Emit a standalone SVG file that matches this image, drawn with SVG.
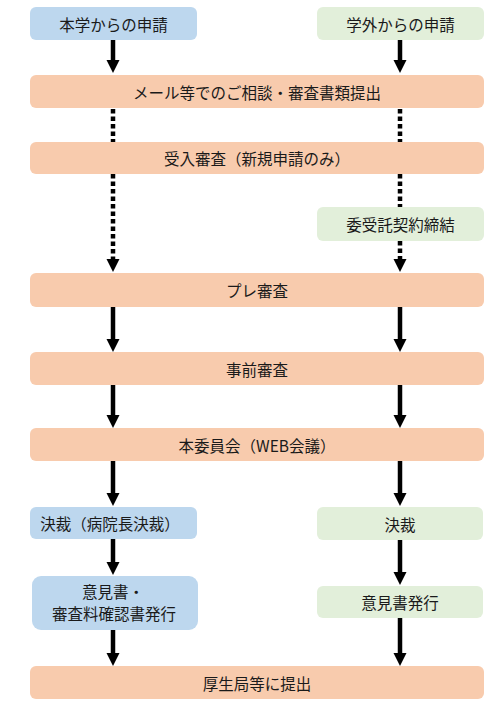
<svg xmlns="http://www.w3.org/2000/svg" width="504" height="706" viewBox="0 0 504 706">
<style>
.o{fill:#F8CBAD}.b{fill:#BDD7EE}.g{fill:#E2EFDA}
text{font-family:"Noto Sans CJK JP","Noto Sans",sans-serif;font-size:15.5px;fill:#1a1a1a;text-anchor:middle;dominant-baseline:central}
.s{stroke:#000;stroke-width:4.5;fill:none}
.d{stroke:#000;stroke-width:4.5;fill:none;stroke-dasharray:4.5 3}
</style>
<g id="connectors">
<path class="s" d="M113,40 V61"/><path d="M106.5,60 h13 L113,73 Z"/>
<path class="s" d="M400,40 V61"/><path d="M393.5,60 h13 L400,73 Z"/>
<path class="d" d="M113,109 V142"/>
<path class="d" d="M400,109 V142"/>
<path class="d" d="M113,174 V260"/><path d="M106.5,259 h13 L113,272 Z"/>
<path class="d" d="M400,174 V207"/>
<path class="d" d="M400,241 V260"/><path d="M393.5,259 h13 L400,272 Z"/>
<path class="s" d="M113,307 V340"/><path d="M106.5,339 h13 L113,352 Z"/>
<path class="s" d="M400,307 V340"/><path d="M393.5,339 h13 L400,352 Z"/>
<path class="s" d="M113,385 V416"/><path d="M106.5,415 h13 L113,428 Z"/>
<path class="s" d="M400,385 V416"/><path d="M393.5,415 h13 L400,428 Z"/>
<path class="s" d="M113,461 V494"/><path d="M106.5,493 h13 L113,506 Z"/>
<path class="s" d="M400,461 V494"/><path d="M393.5,493 h13 L400,506 Z"/>
<path class="s" d="M113,539 V563"/><path d="M106.5,562 h13 L113,575 Z"/>
<path class="s" d="M400,540 V573"/><path d="M393.5,572 h13 L400,585 Z"/>
<path class="s" d="M113,630 V654"/><path d="M106.5,653 h13 L113,666 Z"/>
<path class="s" d="M400,618 V654"/><path d="M393.5,653 h13 L400,666 Z"/>
</g>
<g id="n1"><rect class="b" x="30" y="7" width="167" height="33" rx="6"/><text x="113.5" y="23.5">本学からの申請</text></g>
<g id="n2"><rect class="g" x="317" y="7" width="167" height="33" rx="6"/><text x="400.5" y="23.5">学外からの申請</text></g>
<g id="n3"><rect class="o" x="30" y="75" width="454" height="33" rx="6"/><text x="257" y="91.5">メール等でのご相談・審査書類提出</text></g>
<g id="n4"><rect class="o" x="30" y="142" width="454" height="32" rx="6"/><text x="257" y="158">受入審査（新規申請のみ）</text></g>
<g id="n5"><rect class="g" x="317" y="207" width="167" height="34" rx="6"/><text x="400.5" y="224">委受託契約締結</text></g>
<g id="n6"><rect class="o" x="30" y="273" width="454" height="34" rx="6"/><text x="257" y="290">プレ審査</text></g>
<g id="n7"><rect class="o" x="30" y="352" width="454" height="33" rx="6"/><text x="257" y="368.5">事前審査</text></g>
<g id="n8"><rect class="o" x="30" y="428" width="454" height="33" rx="6"/><text x="257" y="444.5">本委員会（WEB会議）</text></g>
<g id="n9"><rect class="b" x="30" y="507" width="167" height="32" rx="6"/><text x="110" y="523">決裁（病院長決裁）</text></g>
<g id="n10"><rect class="g" x="317" y="507" width="166" height="33" rx="6"/><text x="400" y="523.5">決裁</text></g>
<g id="n11"><rect class="b" x="32" y="576" width="166" height="54" rx="9"/><text x="113" y="591">意見書・</text><text x="114" y="612.5">審査料確認書発行</text></g>
<g id="n12"><rect class="g" x="317" y="586" width="166" height="32" rx="6"/><text x="400" y="602">意見書発行</text></g>
<g id="n13"><rect class="o" x="30" y="666" width="454" height="33" rx="6"/><text x="257" y="682.5">厚生局等に提出</text></g>
</svg>
